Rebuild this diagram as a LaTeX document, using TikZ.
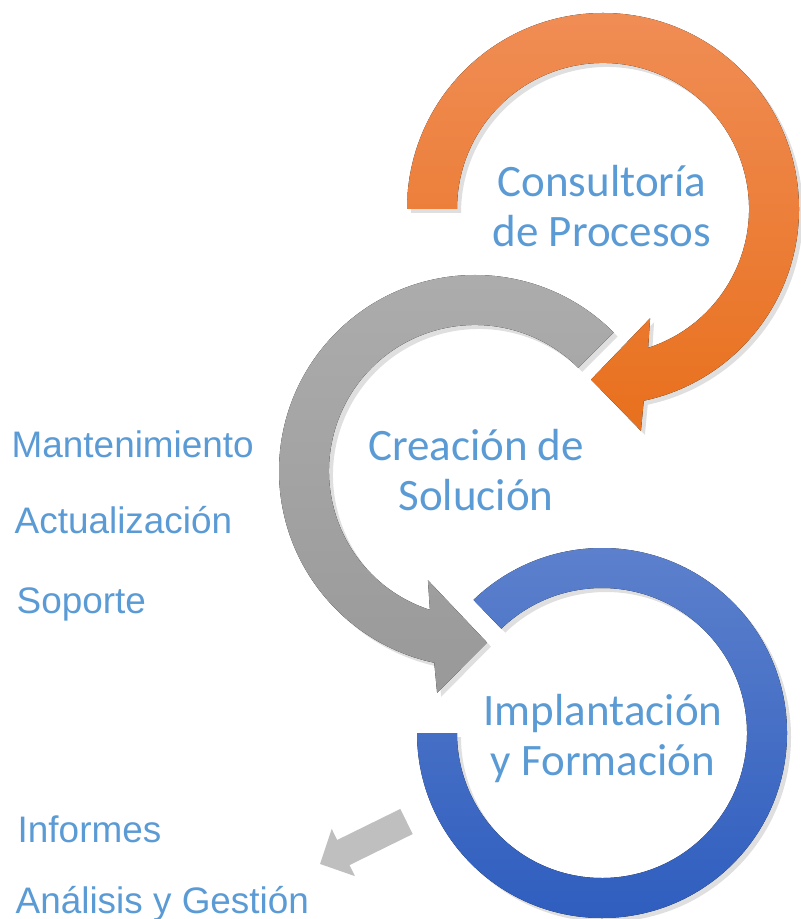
\documentclass[tikz,border=0pt]{standalone}
\usepackage{fontspec}
\setmainfont{Carlito}
\newfontfamily\arialfont{Liberation Sans}
\usetikzlibrary{arrows.meta,shadows}
\definecolor{txtblue}{HTML}{5B9BD5}
\definecolor{orTop}{HTML}{F08D55}
\definecolor{orBot}{HTML}{E8701D}
\definecolor{grTop}{HTML}{ADADAD}
\definecolor{grBot}{HTML}{999999}
\definecolor{blTop}{HTML}{5C80CC}
\definecolor{blBot}{HTML}{2F5EBF}
\definecolor{smallgray}{HTML}{BFBFBF}
\tikzset{
  ring/.style={drop shadow={shadow xshift=0.04cm, shadow yshift=-0.04cm, opacity=0.25}},
  bigtext/.style={text=txtblue, align=center, inner sep=0, font=\fontsize{12.8}{14.2}\selectfont},
  sidetext/.style={text=txtblue, anchor=base west, inner sep=0, font=\arialfont\fontsize{10.5}{12}\selectfont},
}
\begin{document}
\begin{tikzpicture}
\useasboundingbox (0,0) rectangle (8.01,-9.19);
\begin{scope}[shift={(6.03,-2.09)}] % orange
\fill[ring, top color=orTop, bottom color=orBot] (180:1.96) arc[start angle=180, end angle=-78, radius=1.96] -- (-80.3:2.25) -- (-94:1.71) -- (-66.7:1.19) -- (-72:1.46) arc[start angle=-72, end angle=180, radius=1.46] -- cycle;
\end{scope}
\begin{scope}[shift={(4.75,-4.71)}] % gray
\fill[ring, top color=grTop, bottom color=grBot] (45:1.96) arc[start angle=45, end angle=258, radius=1.96] -- (260.3:2.25) -- (274:1.72) -- (246.7:1.19) -- (252:1.46) arc[start angle=252, end angle=45, radius=1.46] -- cycle;
\end{scope}
\begin{scope}[shift={(6.02,-7.33)}] % blue
\fill[ring, top color=blTop, bottom color=blBot] (180:1.85) arc[start angle=180, end angle=494, radius=1.85] -- (494:1.45) arc[start angle=494, end angle=180, radius=1.45] -- cycle;
\end{scope}
\node[bigtext] (cons) at (6.02,-2.065) {Consultoría\\de Procesos};
\node[bigtext] (crea) at (4.76,-4.70) {Creación de\\Solución};
\node[bigtext] (impl) at (6.03,-7.385) {Implantación\\y Formación};
\node[sidetext] (mant) at (0.11,-4.58) {Mantenimiento};
\node[sidetext] (actu) at (0.14,-5.33) {Actualización};
\node[sidetext] (sopo) at (0.16,-6.13) {Soporte};
\node[sidetext] (info) at (0.17,-8.42) {Informes};
\node[sidetext] (anal) at (0.15,-9.13) {Análisis y Gestión};
\coordinate (from) at (4.065,-8.215);
\coordinate (to) at (3.20,-8.64);
\draw[smallgray, line width=0.28cm, -{Triangle[length=0.26cm, width=0.51cm]}] (from) -- (to);
\end{tikzpicture}
\end{document}
